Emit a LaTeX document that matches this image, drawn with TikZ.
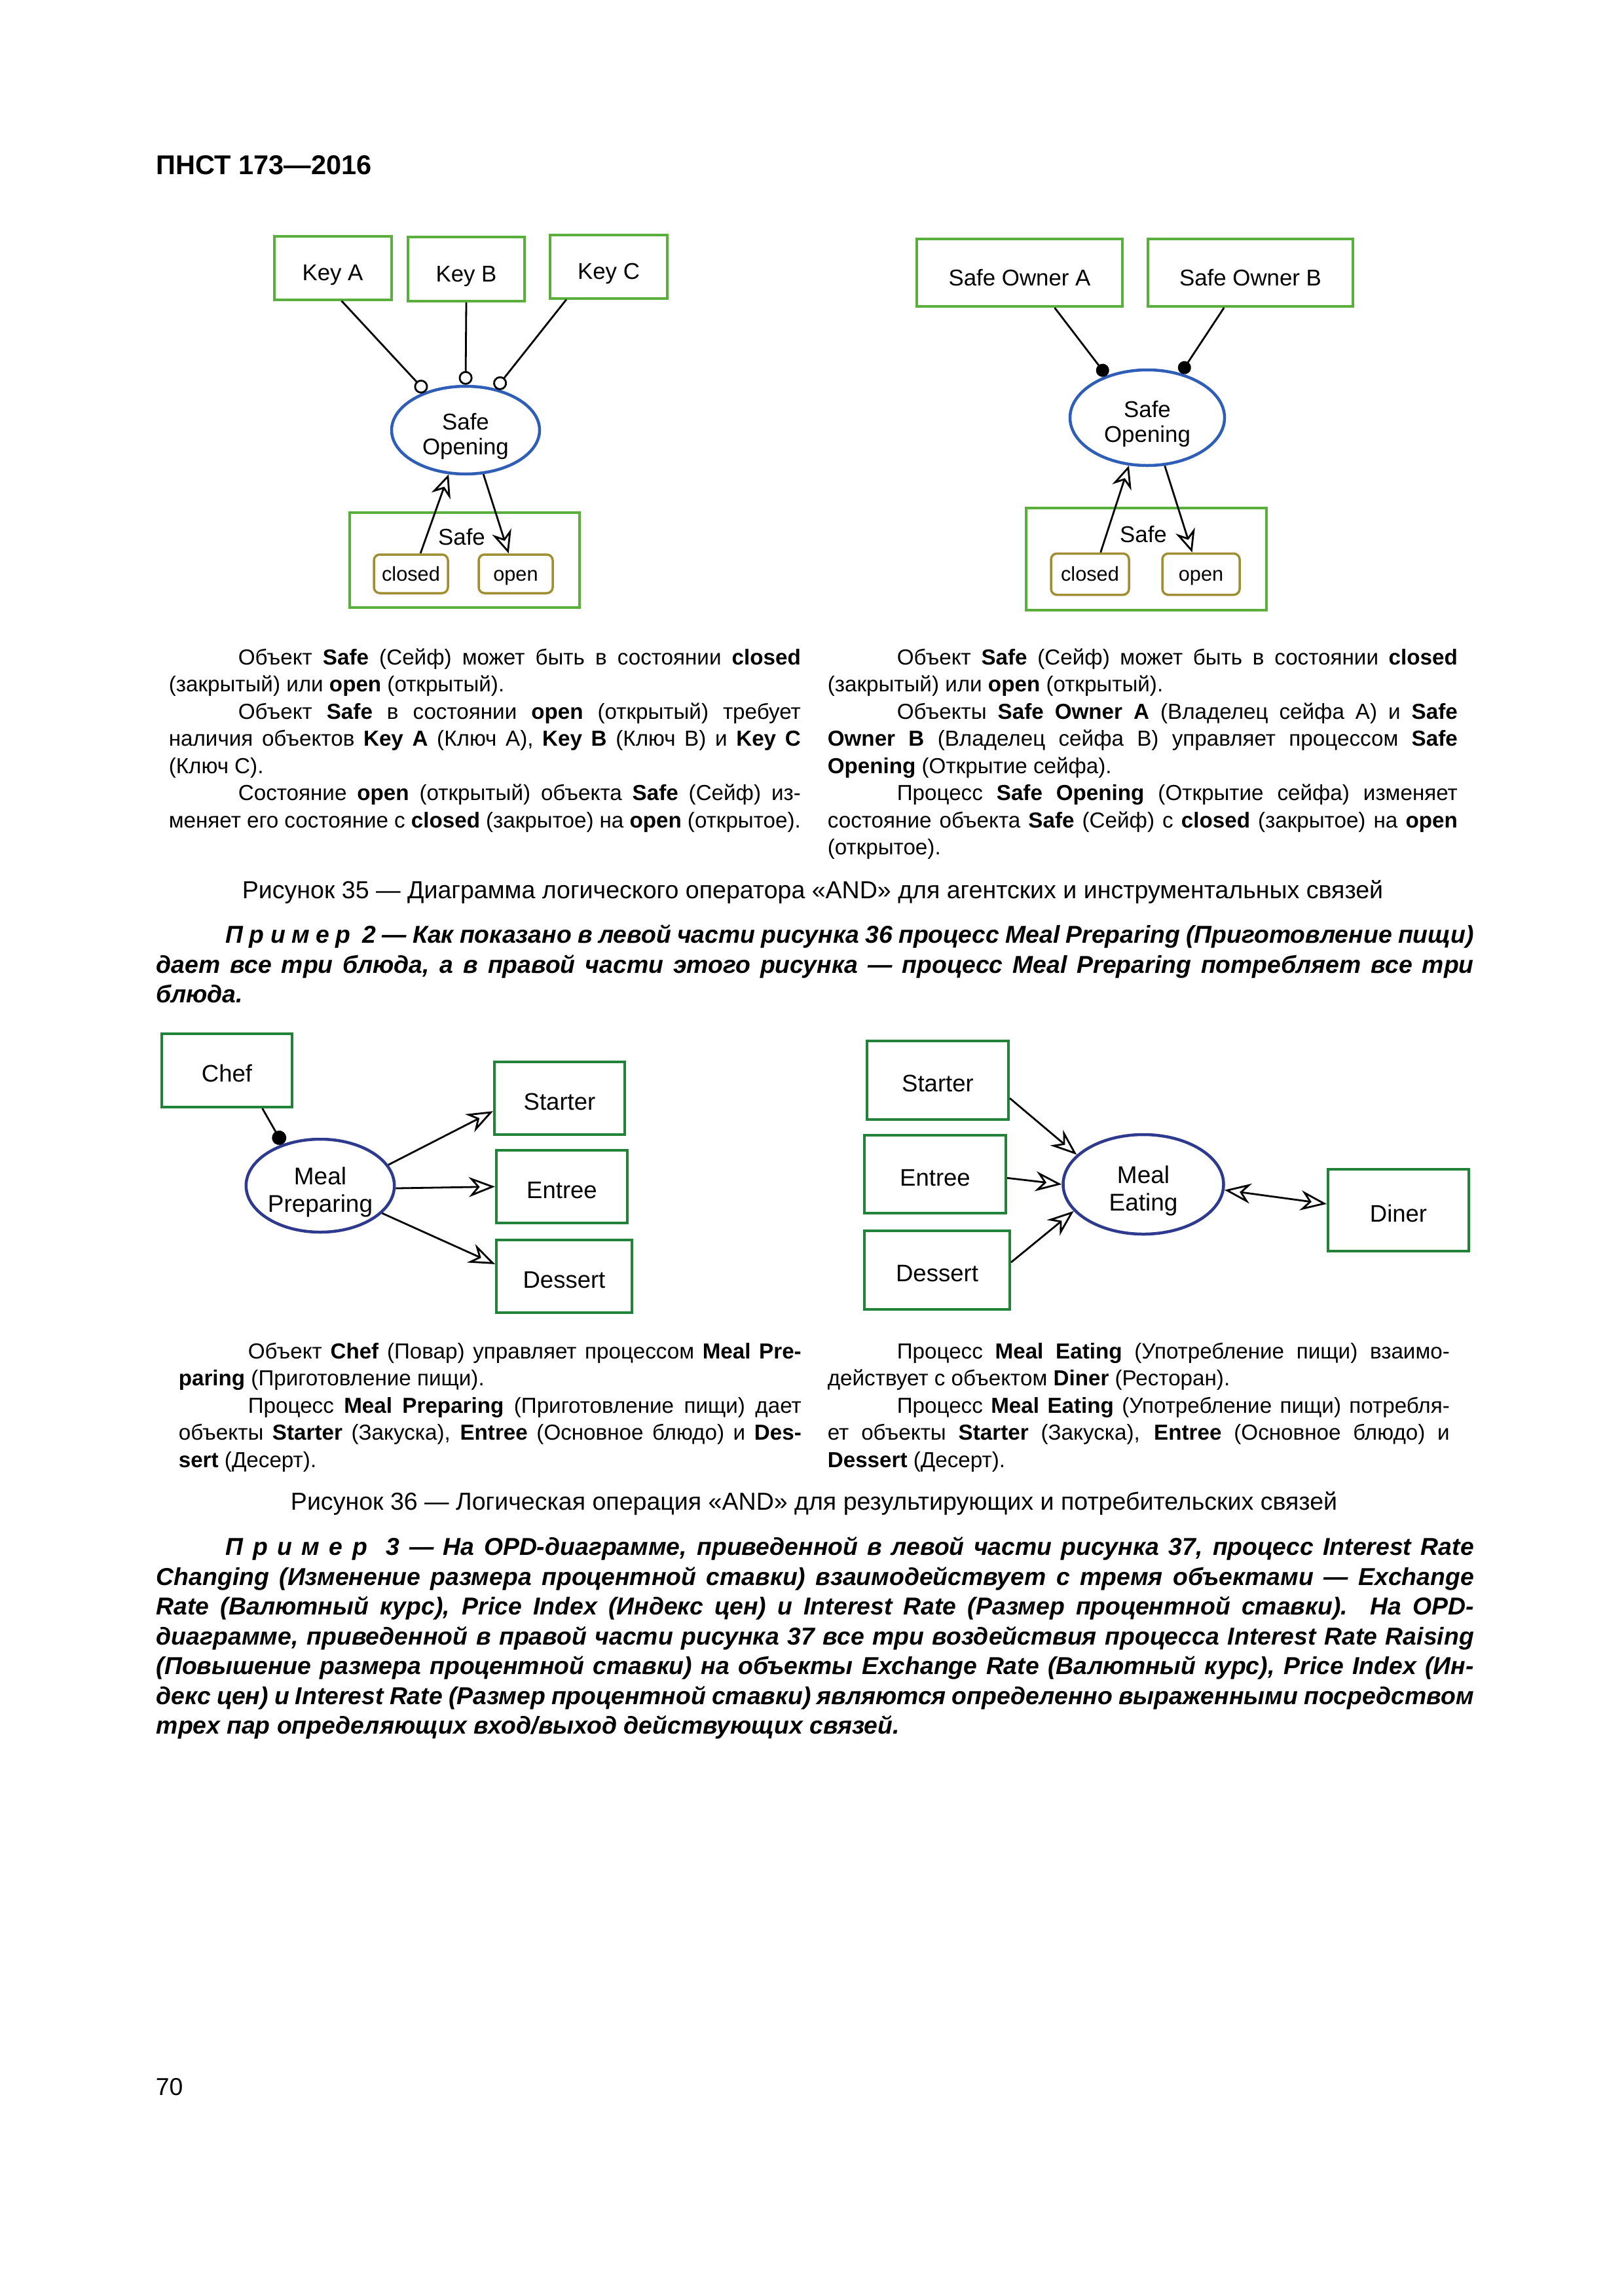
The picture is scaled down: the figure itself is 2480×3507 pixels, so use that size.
\documentclass[tikz,border=0pt]{standalone}
\usepackage{fontspec}
\setmainfont{Liberation Sans}
\usepackage{tikz}
\usetikzlibrary{shapes.geometric, arrows.meta}
\definecolor{opmgreen}{HTML}{5AAF3C}
\definecolor{opmdkgreen}{HTML}{23823A}
\definecolor{opmblue}{HTML}{2F5EB6}
\definecolor{opmnavy}{HTML}{2D3A8E}
\definecolor{opmstate}{HTML}{A08E33}
\newlength{\upx}
\setlength{\upx}{0.0847mm}
\setlength{\parindent}{0pt}
\newcommand{\colfont}{\fontsize{8}{10}\selectfont}
\newcommand{\exfont}{\fontsize{9}{10.96}\selectfont\bfseries\itshape}
\newcommand{\capfont}{\fontsize{9.05}{11}\selectfont}
\newcommand{\noteindent}{\hspace*{106\upx}}
\newcommand{\ovaltop}{\rule{0pt}{1.25em}}
\hyphenpenalty=10000
\exhyphenpenalty=10000
\tolerance=10000

\begin{document}
\begin{tikzpicture}[
    x=0.0847mm, y=-0.0847mm,
    objectbox/.style={draw=opmgreen,line width=4\upx,fill=white,inner sep=0pt,align=center,
      text height=0.94em,text depth=0pt,font=\fontsize{8.4}{9}\selectfont},
    objectboxB/.style={objectbox,draw=opmdkgreen,text height=0.86em,font=\fontsize{8.8}{10}\selectfont},
    processoval/.style={ellipse,draw=opmblue,line width=4.5\upx,inner sep=0pt,align=center,
      font=\fontsize{8.4}{9.1}\selectfont},
    processovalB/.style={processoval,draw=opmnavy,font=\fontsize{8.9}{10}\selectfont},
    statebox/.style={draw=opmstate,line width=3.5\upx,rounded corners=9\upx,fill=white,inner sep=0pt,
      text height=0.73em,text depth=0.21em,font=\fontsize{7.4}{8}\selectfont},
    boxlabel/.style={inner sep=0pt,font=\fontsize{8.4}{9}\selectfont},
    link/.style={draw,line width=2.8\upx},
    instrument/.style={link,-{Circle[open,length=1.78mm,width=1.78mm]}},
    agent/.style={link,-{Circle[length=1.7mm,width=1.7mm]}},
    agentB/.style={link,-{Circle[length=1.86mm,width=1.86mm]}},
    effect/.style={link,-{Stealth[open,length=2.96mm,width=2.6mm]}},
    effectB/.style={link,-{Stealth[open,length=3.4mm,width=2.6mm]}},
    bothway/.style={link,{Stealth[open,length=3.4mm,width=2.6mm]}-{Stealth[open,length=3.4mm,width=2.6mm]}},
    notetext/.style={anchor=north west,inner sep=0pt,align=justify,font=\colfont},
    exampletext/.style={anchor=north west,inner sep=0pt,align=justify,font=\exfont},
    captiontext/.style={inner sep=0pt,font=\capfont},
  ]
    \useasboundingbox (0,0) rectangle (2480,3507);
    \fill[white] (0,0) rectangle (2480,3507);

    \node[anchor=base west,inner sep=0pt,font=\fontsize{10}{11}\selectfont\bfseries] (header) at (238,266) {ПНСТ 173—2016};

    % Figure 35, left: keys as instruments
    \node[objectbox,minimum width=179\upx,minimum height=97\upx] (keyA) at (508,409) {Key A};
    \node[objectbox,minimum width=178\upx,minimum height=98\upx] (keyB) at (712,411) {Key B};
    \node[objectbox,minimum width=179\upx,minimum height=97\upx] (keyC) at (929.5,407) {Key C};
    \node[processoval,minimum width=226\upx,minimum height=134\upx] (opening) at (711,657) {\ovaltop Safe\\Opening};
    \node[objectbox,minimum width=351\upx,minimum height=145\upx] (safe) at (709.5,855.5) {};
    \node[boxlabel] (safeLabel) at (705,820) {Safe};
    \node[statebox,minimum width=113\upx,minimum height=59\upx] (closedA) at (627.5,876.5) {closed};
    \node[statebox,minimum width=113\upx,minimum height=59\upx] (openA) at (787.5,876.5) {open};

    \draw[instrument] (keyA.-75) -- (opening.136);
    \draw[instrument] (keyB.south) -- (opening.north);
    \draw[instrument] (keyC.218) -- (opening.54);
    \draw[effect] (closedA.65) -- (opening.249);
    \draw[effect] (opening.292) -- (openA.109);

    % Figure 35, right: owners as agents
    \node[objectbox,minimum width=314\upx,minimum height=103\upx] (ownerA) at (1557,416.5) {Safe Owner A};
    \node[objectbox,minimum width=313\upx,minimum height=103\upx] (ownerB) at (1909.5,416.5) {Safe Owner B};
    \node[processoval,minimum width=236\upx,minimum height=146\upx] (openingB) at (1752,638) {\ovaltop Safe\\Opening};
    \node[objectbox,minimum width=367\upx,minimum height=156\upx] (safeB) at (1750.5,854) {};
    \node[boxlabel] (safeLabelB) at (1746,816) {Safe};
    \node[statebox,minimum width=119\upx,minimum height=63\upx] (closedB) at (1664.5,877) {closed};
    \node[statebox,minimum width=118\upx,minimum height=63\upx] (openB) at (1834,877) {open};

    \draw[agent] (ownerA.-45) -- (openingB.134);
    \draw[agent] (ownerB.233) -- (openingB.53);
    \draw[effect] (closedB.64) -- (openingB.249);
    \draw[effect] (openingB.290) -- (openB.112);

    \node[notetext,text width=965\upx] (noteKeys) at (257,990) {%
      \noteindent Объект \textbf{Safe} (Сейф) может быть в состоянии \textbf{closed}\linebreak
      (закрытый) или \textbf{open} (открытый).\par
      \noteindent Объект \textbf{Safe} в состоянии \textbf{open} (открытый) требует\linebreak
      наличия объектов \textbf{Key A} (Ключ А), \textbf{Key B} (Ключ В) и \textbf{Key C}\linebreak
      (Ключ С).\par
      \noteindent Состояние \textbf{open} (открытый) объекта \textbf{Safe} (Сейф) из-\linebreak
      меняет его состояние с \textbf{closed} (закрытое) на \textbf{open} (открытое).};
    \node[notetext,text width=962\upx] (noteOwners) at (1263,990) {%
      \noteindent Объект \textbf{Safe} (Сейф) может быть в состоянии \textbf{closed}\linebreak
      (закрытый) или \textbf{open} (открытый).\par
      \noteindent Объекты \textbf{Safe Owner A} (Владелец сейфа А) и \textbf{Safe}\linebreak
      \textbf{Owner B} (Владелец сейфа В) управляет процессом \textbf{Safe}\linebreak
      \textbf{Opening} (Открытие сейфа).\par
      \noteindent Процесс \textbf{Safe Opening} (Открытие сейфа) изменяет\linebreak
      состояние объекта \textbf{Safe} (Сейф) с \textbf{closed} (закрытое) на \textbf{open}\linebreak
      (открытое).};

    \node[captiontext] (caption35) at (1241,1362) {Рисунок 35 — Диаграмма логического оператора «AND» для агентских и инструментальных связей};

    \node[exampletext,text width=2012\upx] (example2) at (238,1412) {%
      \noteindent П~р~и~м~е~р~~2 — Как показано в левой части рисунка 36 процесс Meal Preparing (Приготовление пищи)\linebreak
      дает все три блюда, а в правой части этого рисунка — процесс Meal Preparing потребляет все три\linebreak
      блюда.};

    % Figure 36, left: results
    \node[objectboxB,minimum width=199\upx,minimum height=112\upx] (chef) at (346.5,1635) {Chef};
    \node[objectboxB,minimum width=199\upx,minimum height=111\upx] (starter) at (854.5,1677.5) {Starter};
    \node[objectboxB,minimum width=200\upx,minimum height=111\upx] (entree) at (858,1812.5) {Entree};
    \node[objectboxB,minimum width=207\upx,minimum height=111\upx] (dessert) at (861.5,1949.5) {Dessert};
    \node[processovalB,minimum width=226\upx,minimum height=142\upx] (mealPrep) at (489,1811) {\ovaltop Meal\\Preparing};

    \draw[agentB] (chef.-47) -- (mealPrep.132);
    \draw[effectB] (mealPrep.17) -- (starter.191);
    \draw[effectB] (mealPrep.-2) -- (entree.west);
    \draw[effectB] (mealPrep.-24) -- (dessert.170);

    % Figure 36, right: consumption
    \node[objectboxB,minimum width=216\upx,minimum height=120\upx] (starterB) at (1432,1650) {Starter};
    \node[objectboxB,minimum width=216\upx,minimum height=119\upx] (entreeB) at (1428,1793.5) {Entree};
    \node[objectboxB,minimum width=222\upx,minimum height=120\upx] (dessertB) at (1431,1940) {Dessert};
    \node[processovalB,minimum width=245\upx,minimum height=152\upx] (mealEat) at (1746,1809) {\ovaltop Meal\\Eating};
    \node[objectboxB,minimum width=215\upx,minimum height=125\upx] (diner) at (2135.5,1848.5) {Diner};

    \draw[effectB] (starterB.-14) -- (mealEat.156);
    \draw[effectB] (entreeB.-3) -- (mealEat.west);
    \draw[effectB] (dessertB.6) -- (mealEat.201);
    \draw[bothway] (mealEat.-4) -- (diner.175);

    \node[notetext,text width=951\upx] (noteChef) at (272,2050) {%
      \noteindent Объект \textbf{Chef} (Повар) управляет процессом \textbf{Meal Pre-}\linebreak
      \textbf{paring} (Приготовление пищи).\par
      \noteindent Процесс \textbf{Meal Preparing} (Приготовление пищи) дает\linebreak
      объекты \textbf{Starter} (Закуска), \textbf{Entree} (Основное блюдо) и \textbf{Des-}\linebreak
      \textbf{sert} (Десерт).};
    \node[notetext,text width=950\upx] (noteDiner) at (1263,2050) {%
      \noteindent Процесс \textbf{Meal Eating} (Употребление пищи) взаимо-\linebreak
      действует с объектом \textbf{Diner} (Ресторан).\par
      \noteindent Процесс \textbf{Meal Eating} (Употребление пищи) потребля-\linebreak
      ет объекты \textbf{Starter} (Закуска), \textbf{Entree} (Основное блюдо) и\linebreak
      \textbf{Dessert} (Десерт).};

    \node[captiontext] (caption36) at (1243,2296) {Рисунок 36 — Логическая операция «AND» для результирующих и потребительских связей};

    \node[exampletext,text width=2012\upx] (example3) at (238,2347) {%
      \noteindent П~р~и~м~е~р~~3 — На OPD-диаграмме, приведенной в левой части рисунка 37, процесс Interest Rate\linebreak
      Changing (Изменение размера процентной ставки) взаимодействует с тремя объектами — Exchange\linebreak
      Rate (Валютный курс), Price Index (Индекс цен) и Interest Rate (Размер процентной ставки). На OPD-\linebreak
      диаграмме, приведенной в правой части рисунка 37 все три воздействия процесса Interest Rate Raising\linebreak
      (Повышение размера процентной ставки) на объекты Exchange Rate (Валютный курс), Price Index (Ин-\linebreak
      декс цен) и Interest Rate (Размер процентной ставки) являются определенно выраженными посредством\linebreak
      трех пар определяющих вход/выход действующих связей.};

    \node[anchor=base west,inner sep=0pt,font=\fontsize{9}{11}\selectfont] (pageNo) at (237,3200) {70};
\end{tikzpicture}
\end{document}
